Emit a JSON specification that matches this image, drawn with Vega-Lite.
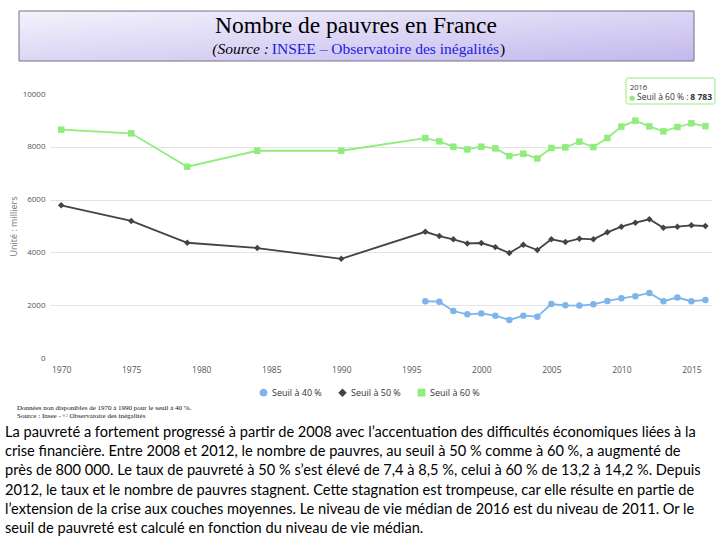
{
  "$schema": "https://vega.github.io/schema/vega-lite/v6.json",
  "padding": {"left": 5, "top": 10, "right": 0, "bottom": 0},
  "background": "white",
  "width": 661,
  "height": 264,
  "config": {"view": {"stroke": null}},
  "data": {"values": [
    {"year": 1996, "serie": "Seuil à 40 %", "value": 2150},
    {"year": 1997, "serie": "Seuil à 40 %", "value": 2135},
    {"year": 1998, "serie": "Seuil à 40 %", "value": 1780},
    {"year": 1999, "serie": "Seuil à 40 %", "value": 1655},
    {"year": 2000, "serie": "Seuil à 40 %", "value": 1690},
    {"year": 2001, "serie": "Seuil à 40 %", "value": 1605},
    {"year": 2002, "serie": "Seuil à 40 %", "value": 1440},
    {"year": 2003, "serie": "Seuil à 40 %", "value": 1605},
    {"year": 2004, "serie": "Seuil à 40 %", "value": 1565},
    {"year": 2005, "serie": "Seuil à 40 %", "value": 2045},
    {"year": 2006, "serie": "Seuil à 40 %", "value": 1995},
    {"year": 2007, "serie": "Seuil à 40 %", "value": 1985},
    {"year": 2008, "serie": "Seuil à 40 %", "value": 2035},
    {"year": 2009, "serie": "Seuil à 40 %", "value": 2160},
    {"year": 2010, "serie": "Seuil à 40 %", "value": 2260},
    {"year": 2011, "serie": "Seuil à 40 %", "value": 2340},
    {"year": 2012, "serie": "Seuil à 40 %", "value": 2465},
    {"year": 2013, "serie": "Seuil à 40 %", "value": 2150},
    {"year": 2014, "serie": "Seuil à 40 %", "value": 2290},
    {"year": 2015, "serie": "Seuil à 40 %", "value": 2150},
    {"year": 2016, "serie": "Seuil à 40 %", "value": 2200},
    {"year": 1970, "serie": "Seuil à 50 %", "value": 5785},
    {"year": 1975, "serie": "Seuil à 50 %", "value": 5190},
    {"year": 1979, "serie": "Seuil à 50 %", "value": 4365},
    {"year": 1984, "serie": "Seuil à 50 %", "value": 4165},
    {"year": 1990, "serie": "Seuil à 50 %", "value": 3757},
    {"year": 1996, "serie": "Seuil à 50 %", "value": 4780},
    {"year": 1997, "serie": "Seuil à 50 %", "value": 4620},
    {"year": 1998, "serie": "Seuil à 50 %", "value": 4495},
    {"year": 1999, "serie": "Seuil à 50 %", "value": 4340},
    {"year": 2000, "serie": "Seuil à 50 %", "value": 4355},
    {"year": 2001, "serie": "Seuil à 50 %", "value": 4200},
    {"year": 2002, "serie": "Seuil à 50 %", "value": 3975},
    {"year": 2003, "serie": "Seuil à 50 %", "value": 4290},
    {"year": 2004, "serie": "Seuil à 50 %", "value": 4090},
    {"year": 2005, "serie": "Seuil à 50 %", "value": 4495},
    {"year": 2006, "serie": "Seuil à 50 %", "value": 4390},
    {"year": 2007, "serie": "Seuil à 50 %", "value": 4520},
    {"year": 2008, "serie": "Seuil à 50 %", "value": 4495},
    {"year": 2009, "serie": "Seuil à 50 %", "value": 4760},
    {"year": 2010, "serie": "Seuil à 50 %", "value": 4975},
    {"year": 2011, "serie": "Seuil à 50 %", "value": 5125},
    {"year": 2012, "serie": "Seuil à 50 %", "value": 5255},
    {"year": 2013, "serie": "Seuil à 50 %", "value": 4935},
    {"year": 2014, "serie": "Seuil à 50 %", "value": 4975},
    {"year": 2015, "serie": "Seuil à 50 %", "value": 5025},
    {"year": 2016, "serie": "Seuil à 50 %", "value": 5000},
    {"year": 1970, "serie": "Seuil à 60 %", "value": 8650},
    {"year": 1975, "serie": "Seuil à 60 %", "value": 8510},
    {"year": 1979, "serie": "Seuil à 60 %", "value": 7245},
    {"year": 1984, "serie": "Seuil à 60 %", "value": 7850},
    {"year": 1990, "serie": "Seuil à 60 %", "value": 7850},
    {"year": 1996, "serie": "Seuil à 60 %", "value": 8330},
    {"year": 1997, "serie": "Seuil à 60 %", "value": 8205},
    {"year": 1998, "serie": "Seuil à 60 %", "value": 8004},
    {"year": 1999, "serie": "Seuil à 60 %", "value": 7900},
    {"year": 2000, "serie": "Seuil à 60 %", "value": 8004},
    {"year": 2001, "serie": "Seuil à 60 %", "value": 7940},
    {"year": 2002, "serie": "Seuil à 60 %", "value": 7650},
    {"year": 2003, "serie": "Seuil à 60 %", "value": 7738},
    {"year": 2004, "serie": "Seuil à 60 %", "value": 7560},
    {"year": 2005, "serie": "Seuil à 60 %", "value": 7955},
    {"year": 2006, "serie": "Seuil à 60 %", "value": 7980},
    {"year": 2007, "serie": "Seuil à 60 %", "value": 8195},
    {"year": 2008, "serie": "Seuil à 60 %", "value": 7990},
    {"year": 2009, "serie": "Seuil à 60 %", "value": 8335},
    {"year": 2010, "serie": "Seuil à 60 %", "value": 8765},
    {"year": 2011, "serie": "Seuil à 60 %", "value": 8990},
    {"year": 2012, "serie": "Seuil à 60 %", "value": 8775},
    {"year": 2013, "serie": "Seuil à 60 %", "value": 8585},
    {"year": 2014, "serie": "Seuil à 60 %", "value": 8750},
    {"year": 2015, "serie": "Seuil à 60 %", "value": 8890},
    {"year": 2016, "serie": "Seuil à 60 %", "value": 8783}
  ]},
  "layer": [
    {
      "data": {"values": [{}]},
      "mark": {"type": "rect", "x": -31, "x2": 644, "y": -83, "y2": -33,
        "fill": {"gradient": "linear", "x1": 0, "y1": 0, "x2": 1, "y2": 1,
          "stops": [{"offset": 0, "color": "#f4f2fc"}, {"offset": 0.5, "color": "#dcd6f5"}, {"offset": 1, "color": "#c2b8ec"}]},
        "stroke": "#74708a", "strokeWidth": 1}
    },
    {
      "data": {"values": [{}]},
      "mark": {"type": "text", "text": "Nombre de pauvres en France", "x": 306, "y": -61,
        "align": "center", "baseline": "alphabetic", "font": "Liberation Serif", "fontSize": 23.5, "color": "#000000"}
    },
    {
      "data": {"values": [{}]},
      "mark": {"type": "text", "text": "(Source :", "x": 219, "y": -40,
        "align": "right", "baseline": "alphabetic", "font": "Liberation Serif", "fontStyle": "italic", "fontSize": 15.5, "color": "#000000"}
    },
    {
      "data": {"values": [{}]},
      "mark": {"type": "text", "text": "INSEE – Observatoire des inégalités", "x": 335.5, "y": -40,
        "align": "center", "baseline": "alphabetic", "font": "Liberation Serif", "fontSize": 15.5, "color": "#1a1ae0"}
    },
    {
      "data": {"values": [{}]},
      "mark": {"type": "text", "text": ")", "x": 450, "y": -40,
        "align": "left", "baseline": "alphabetic", "font": "Liberation Serif", "fontSize": 15.5, "color": "#000000"}
    },
    {
      "data": {"values": [{}]},
      "mark": {"type": "rule", "x": 222, "x2": 449, "y": -37.5, "stroke": "#1a1ae0", "strokeWidth": 1},
      "encoding": {}
    },
    {
      "data": {"values": [{}]},
      "mark": {"type": "rule", "x": 165, "x2": 207, "y": -37.5, "stroke": "#000000", "strokeWidth": 1},
      "encoding": {}
    },
    {
      "mark": {"type": "line", "strokeWidth": 1.8},
      "encoding": {
        "x": {"field": "year", "type": "quantitative",
          "scale": {"domain": [1969.2, 2016.4], "nice": false, "zero": false},
          "axis": {"title": null, "values": [1970, 1975, 1980, 1985, 1990, 1995, 2000, 2005, 2010, 2015],
            "format": "d", "grid": false, "domain": false, "ticks": false, "labelPadding": 7,
            "labelFont": "Open Sans", "labelFontSize": 8.5, "labelColor": "#555555"}},
        "y": {"field": "value", "type": "quantitative",
          "scale": {"domain": [0, 10000], "nice": false},
          "axis": {"title": "Unité : milliers", "values": [0, 2000, 4000, 6000, 8000, 10000], "format": "d",
            "grid": true, "gridColor": {"condition": {"test": "datum.value == 0 || datum.value == 10000", "value": "transparent"}, "value": "#e3e3e3"},
            "domain": false, "ticks": false, "labelPadding": 5,
            "labelFont": "Open Sans", "labelFontSize": 8, "labelColor": "#555555",
            "titleFont": "Open Sans", "titleFontSize": 9, "titleFontWeight": "normal", "titleColor": "#777777", "titlePadding": 4}},
        "color": {"field": "serie", "type": "nominal",
          "scale": {"domain": ["Seuil à 40 %", "Seuil à 50 %", "Seuil à 60 %"], "range": ["#7cb5ec", "#434348", "#90ed7d"]}},
        "detail": {"field": "serie"}
      }
    },
    {
      "mark": {"type": "point", "filled": true, "size": 42, "opacity": 1},
      "encoding": {
        "x": {"field": "year", "type": "quantitative"},
        "y": {"field": "value", "type": "quantitative"},
        "color": {"field": "serie", "type": "nominal",
          "legend": {"title": null, "orient": "none", "direction": "horizontal", "legendX": 209, "legendY": 294,
            "labelFont": "Open Sans", "labelFontSize": 9, "labelColor": "#333333", "symbolSize": 40, "columnPadding": 14, "labelOffset": 4}},
        "shape": {"field": "serie", "type": "nominal",
          "scale": {"domain": ["Seuil à 40 %", "Seuil à 50 %", "Seuil à 60 %"], "range": ["circle", "diamond", "square"]},
          "legend": {"title": null, "orient": "none", "direction": "horizontal", "legendX": 209, "legendY": 294,
            "labelFont": "Open Sans", "labelFontSize": 9, "labelColor": "#333333", "symbolSize": 40, "columnPadding": 14, "labelOffset": 4}}
      }
    },
    {
      "data": {"values": [{}]},
      "mark": {"type": "rect", "x": 576, "x2": 665, "y": -16, "y2": 10, "fill": "#ffffff", "fillOpacity": 0.9, "stroke": "#90ed7d", "strokeWidth": 1, "cornerRadius": 2}
    },
    {
      "data": {"values": [{}]},
      "mark": {"type": "text", "text": "2016", "x": 580, "y": -4, "align": "left", "baseline": "alphabetic", "font": "Open Sans", "fontSize": 7.5, "color": "#333333"}
    },
    {
      "data": {"values": [{}]},
      "mark": {"type": "text", "text": "●", "x": 579, "y": 6, "align": "left", "baseline": "alphabetic", "font": "DejaVu Sans", "fontSize": 7, "color": "#90ed7d"}
    },
    {
      "data": {"values": [{}]},
      "mark": {"type": "text", "text": "Seuil à 60 % :", "x": 587, "y": 6, "align": "left", "baseline": "alphabetic", "font": "Open Sans", "fontSize": 8.5, "color": "#333333"}
    },
    {
      "data": {"values": [{}]},
      "mark": {"type": "text", "text": "8 783", "x": 662, "y": 6, "align": "right", "baseline": "alphabetic", "font": "Open Sans", "fontSize": 8.5, "fontWeight": "bold", "color": "#333333"}
    },
    {
      "data": {"values": [{}]},
      "mark": {"type": "text", "text": ["Données non disponibles de 1970 à 1990 pour le seuil à 40 %.", "Source : Insee - © Observatoire des inégalités"],
        "x": -33, "y": 316, "align": "left", "baseline": "alphabetic", "lineHeight": 8, "font": "Liberation Serif", "fontSize": 7, "color": "#111111"}
    },
    {
      "data": {"values": [{}]},
      "mark": {"type": "text", "text": [
          "La pauvreté a fortement progressé à partir de 2008 avec l’accentuation des difficultés économiques liées à la",
          "crise financière. Entre 2008 et 2012, le nombre de pauvres, au seuil à 50 % comme à 60 %, a augmenté de",
          "près de 800 000. Le taux de pauvreté à 50 % s’est élevé de 7,4 à 8,5 %, celui à 60 % de 13,2 à 14,2 %. Depuis",
          "2012, le taux et le nombre de pauvres stagnent. Cette stagnation est trompeuse, car elle résulte en partie de",
          "l’extension de la crise aux couches moyennes. Le niveau de vie médian de 2016 est du niveau de 2011. Or le",
          "seuil de pauvreté est calculé en fonction du niveau de vie médian."],
        "x": -45, "y": 343, "align": "left", "baseline": "alphabetic", "lineHeight": 19.2, "font": "Lato", "fontSize": 14.6, "color": "#000000"}
    }
  ]
}
